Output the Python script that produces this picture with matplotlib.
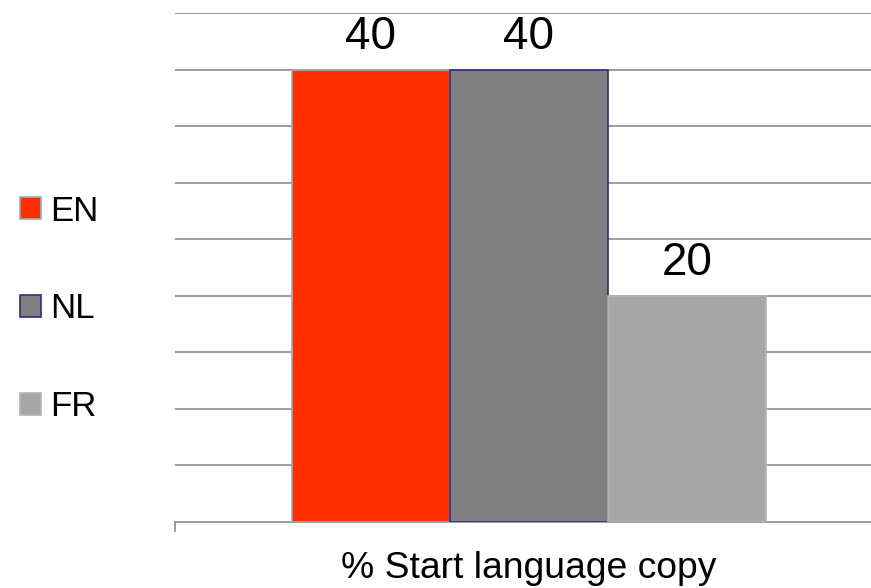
import matplotlib
matplotlib.use('Agg')
import matplotlib.pyplot as plt
from matplotlib.patches import Patch

plt.rcParams['font.family'] = ['Liberation Sans', 'DejaVu Sans']

# share of start-language copies
languages = ['EN', 'NL', 'FR']
values = [40, 40, 20]
colors = ['#FF3000', '#808080', '#A6A6A6']
edges = ['#9AB0B0', '#2E2E80', '#B4B4B4']

fig = plt.figure(figsize=(8.71, 5.88), dpi=100)
ax = fig.add_axes([175 / 871, (588 - 522) / 588, 696 / 871, (522 - 13) / 588])

positions = list(range(len(values)))
bars = ax.bar(positions, values, width=1.0, color=colors, edgecolor=edges,
              linewidth=1.2, zorder=3)

for b, v in zip(bars, values):
    ax.annotate(str(v), (b.get_x() + b.get_width() / 2, v),
                xytext=(0, 15), textcoords='offset points',
                ha='center', va='baseline', fontsize=33, zorder=4)

ax.set_ylim(0, 45)
ax.set_xlim(-1.24, 3.165)
ax.set_yticks(range(5, 46, 5))
ax.yaxis.grid(True, color='#8C8C8C', linewidth=1.2, zorder=0)
ax.set_yticklabels([])
ax.tick_params(axis='y', length=0)
ax.set_xticks([-1.24])
ax.set_xticklabels([])
ax.tick_params(axis='x', length=7, color='#8C8C8C', width=1.2, direction='out')

for s in ['top', 'right', 'left']:
    ax.spines[s].set_visible(False)
ax.spines['bottom'].set_color('#8C8C8C')
ax.spines['bottom'].set_linewidth(1.2)

fig.text(529 / 871, 1 - 578 / 588, '% Start language copy', ha='center',
         va='baseline', fontsize=26.8)

handles = [Patch(facecolor=c, edgecolor=e, linewidth=1.2) for c, e in zip(colors, edges)]
fig.legend(handles, languages, loc='center left', bbox_to_anchor=(20 / 871, 1 - 309 / 588),
           frameon=False, fontsize=25, handlelength=0.6, handleheight=0.6,
           handletextpad=0.26, labelspacing=1.87, borderpad=0, borderaxespad=0)

fig.savefig('out.png', dpi=100)
